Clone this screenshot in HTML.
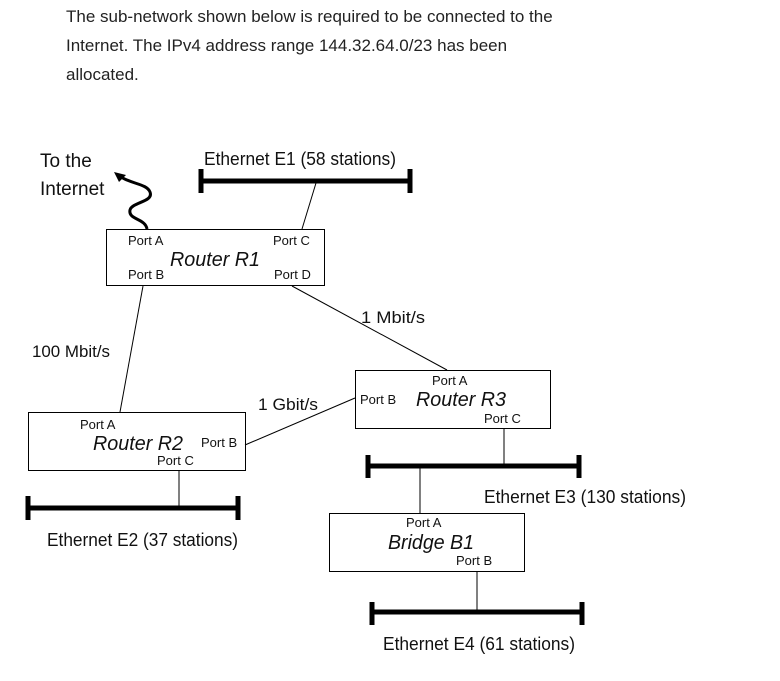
<!DOCTYPE html>
<html><head><meta charset="utf-8"><style>
html,body{margin:0;padding:0;background:#fff;width:780px;height:681px;overflow:hidden}
svg{display:block}
.h{font-family:"Liberation Sans",Arial,sans-serif;font-size:17px;fill:#222}
.t{font-family:"Liberation Sans Narrow","Liberation Sans",sans-serif;fill:#111}
</style></head><body>
<svg width="780" height="681" viewBox="0 0 780 681" xmlns="http://www.w3.org/2000/svg">
<text class="h" x="66" y="22">The sub-network shown below is required to be connected to the</text>
<text class="h" x="66" y="51">Internet. The IPv4 address range 144.32.64.0/23 has been</text>
<text class="h" x="66" y="80">allocated.</text>

<g class="t">
<text x="40" y="167" font-size="19">To the</text>
<text x="40" y="195" font-size="19">Internet</text>
<text x="204" y="165" font-size="18" textLength="192" lengthAdjust="spacingAndGlyphs">Ethernet E1 (58 stations)</text>
<text x="32" y="357" font-size="17" textLength="78" lengthAdjust="spacingAndGlyphs">100 Mbit/s</text>
<text x="361" y="323" font-size="17" textLength="64" lengthAdjust="spacingAndGlyphs">1 Mbit/s</text>
<text x="258" y="410" font-size="17" textLength="60" lengthAdjust="spacingAndGlyphs">1 Gbit/s</text>
<text x="47" y="546" font-size="18" textLength="191" lengthAdjust="spacingAndGlyphs">Ethernet E2 (37 stations)</text>
<text x="484" y="503" font-size="18" textLength="202" lengthAdjust="spacingAndGlyphs">Ethernet E3 (130 stations)</text>
<text x="383" y="650" font-size="18" textLength="192" lengthAdjust="spacingAndGlyphs">Ethernet E4 (61 stations)</text>
<text x="288" y="695" font-size="16">Figure 2.1</text>

<g font-size="13">
<text x="128" y="245">Port A</text><text x="273" y="245">Port C</text>
<text x="128" y="279">Port B</text><text x="274" y="279">Port D</text>
<text x="432" y="385">Port A</text><text x="360" y="404">Port B</text><text x="484" y="423">Port C</text>
<text x="80" y="429">Port A</text><text x="201" y="447">Port B</text><text x="157" y="465">Port C</text>
<text x="406" y="527">Port A</text><text x="456" y="565">Port B</text>
</g>
<g font-size="20" font-style="italic">
<text x="170" y="266" textLength="90" lengthAdjust="spacingAndGlyphs">Router R1</text>
<text x="416" y="406" textLength="90" lengthAdjust="spacingAndGlyphs">Router R3</text>
<text x="93" y="450" textLength="90" lengthAdjust="spacingAndGlyphs">Router R2</text>
<text x="388" y="549" textLength="86" lengthAdjust="spacingAndGlyphs">Bridge B1</text>
</g>
</g>

<g stroke="#000" fill="none">
<rect x="106.5" y="229.5" width="218" height="56" stroke-width="1"/>
<rect x="355.5" y="370.5" width="195" height="58" stroke-width="1"/>
<rect x="28.5" y="412.5" width="217" height="58" stroke-width="1"/>
<rect x="329.5" y="513.5" width="195" height="58" stroke-width="1"/>
<g stroke-width="1">
<line x1="316" y1="183" x2="302" y2="229"/>
<line x1="143" y1="286" x2="120" y2="412"/>
<line x1="292" y1="286" x2="447" y2="370"/>
<line x1="245" y1="445" x2="355" y2="398"/>
<line x1="179" y1="471" x2="179" y2="508"/>
<line x1="504" y1="429" x2="504" y2="466"/>
<line x1="420" y1="466" x2="420" y2="513"/>
<line x1="477" y1="572" x2="477" y2="612"/>
</g>
<g stroke-width="5">
<line x1="201" y1="181" x2="410" y2="181"/><line x1="201" y1="169" x2="201" y2="193"/><line x1="410" y1="169" x2="410" y2="193"/>
<line x1="28" y1="508" x2="238" y2="508"/><line x1="28" y1="496" x2="28" y2="520"/><line x1="238" y1="496" x2="238" y2="520"/>
<line x1="368" y1="466" x2="579" y2="466"/><line x1="368" y1="455" x2="368" y2="478"/><line x1="579" y1="455" x2="579" y2="478"/>
<line x1="372" y1="612" x2="582" y2="612"/><line x1="372" y1="602" x2="372" y2="625"/><line x1="582" y1="602" x2="582" y2="625"/>
</g>
<path d="M147 229 C145 218 128 220 130 210 C132 202 154 202 150 192 C147 184 132 184 121 177" stroke-width="3"/>
</g>
<polygon points="114,172 126,175 119,182" fill="#000"/>
</svg>
</body></html>
